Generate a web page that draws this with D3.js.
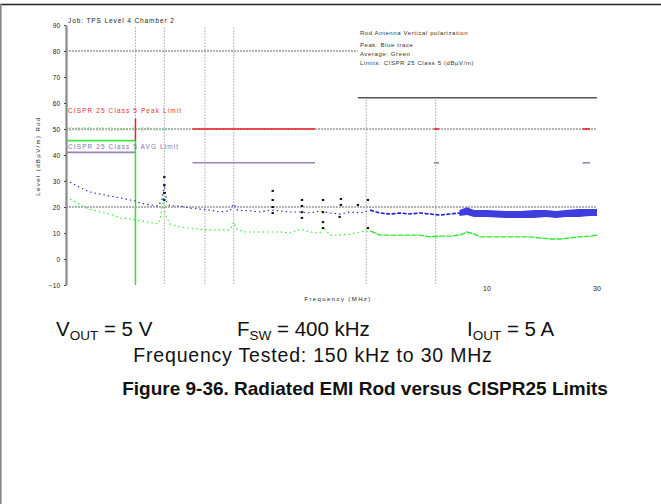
<!DOCTYPE html>
<html><head><meta charset="utf-8">
<script src="https://cdn.jsdelivr.net/npm/d3@7"></script>
<style>body{margin:0;background:#fff}svg{display:block}</style>
</head><body><svg id="c" width="661" height="504"></svg>
<script>
// ---- data ----
const yTickValues = [90, 80, 70, 60, 50, 40, 30, 20, 10, 0, -10];
const yGridValues = [80, 50, 20];
const xTickValues = [10, 30];
const xTickText = ["10", "30"];
const vGridFreqs = [0.3, 0.4, 0.6, 0.8, 3, 6];

// measured peak (blue) trace, MHz / dBuV/m
const peakFreq = [0.15,0.174,0.19,0.21,0.233,0.257,0.284,0.30,0.314,0.347,0.376,0.39,0.40,0.41,0.423,0.468,0.517,0.571,0.631,0.697,0.770,0.80,0.83,0.94,1.04,1.15,1.27,1.40,1.55,1.71,1.89,2.09,2.31,2.55,2.82,3.12,3.44,3.80,4.20,4.64,5.13,5.67,6.26,6.92,7.64,8.2,8.45,9.33,10.3,11.4,12.6,13.9,15.4,17.0,18.8,20.7,22.9,25.3,28.0,30.0];
const peakDb   = [30.4,27.3,25.8,25.0,24.2,23.5,22.7,22.3,21.5,20.8,20.4,22.5,28.5,22.0,20.4,20.4,19.6,19.2,18.8,18.1,18.5,21.2,18.8,18.5,18.1,18.8,18.5,18.1,18.1,17.7,18.5,17.7,17.3,18.1,17.7,18.8,17.7,17.3,17.7,17.3,17.7,17.3,16.9,17.3,17.7,18.5,17.3,16.9,16.5,16.9,16.5,16.2,16.9,16.2,16.5,16.9,16.5,17.3,16.9,17.3];
// noise envelope of the peak trace at high frequency
const bandFreq = [7.6,8.2,8.8,10,12,14,16,18,20,22,25,28,30];
const bandHi   = [18.8,19.9,18.8,18.8,18.5,18.5,18.8,18.8,18.5,18.8,19.2,19.2,19.2];
const bandLo   = [16.5,16.9,16.2,16.2,15.8,15.8,15.8,16.2,15.8,16.2,16.2,16.5,16.5];

// measured average (green) trace
const avgFreq = [0.15,0.164,0.18,0.19,0.21,0.22,0.24,0.257,0.284,0.32,0.376,0.385,0.395,0.405,0.423,0.468,0.517,0.60,0.70,0.77,0.80,0.83,0.90,1.04,1.27,1.40,1.55,1.71,1.89,1.95,2.09,2.31,2.55,2.82,3.12,3.44,3.80,4.20,4.64,5.13,5.67,6.26,6.92,7.64,8.2,8.8,9.33,10.3,11.4,12.6,13.9,15.4,17.0,18.8,20.7,22.9,25.3,28.0,30.0];
const avgDb   = [23.8,22.0,20.0,19.2,18.1,17.7,16.9,15.8,15.4,14.6,13.5,15.8,24.0,16.9,13.5,12.3,11.9,11.2,11.2,11.2,14.2,11.2,10.4,10.4,10.4,10.0,11.5,10.4,10.0,12.3,9.2,9.2,9.6,10.4,10.8,9.2,9.2,9.2,9.2,9.2,8.5,8.8,8.8,9.2,10.4,9.6,8.5,8.5,8.5,8.5,8.5,8.5,8.1,7.7,7.7,8.1,8.5,8.8,9.2];

// limit segments: start MHz, end MHz, level
const peakLimStart = [0.53, 5.9, 26], peakLimEnd = [1.8, 6.2, 28], peakLimLevel = [50, 50, 50];
const avgLimStart = [0.15, 0.53, 5.9, 26], avgLimEnd = [0.3, 1.8, 6.2, 28], avgLimLevel = [41, 37, 37, 37];
const qpLimStart = [0.15], qpLimEnd = [0.3], qpLimLevel = [45.5];
const lwPeakLevel = 54;
const refLineStart = 2.76, refLineEnd = 30, refLineLevel = 62;

// marker ticks
const markerFreq = [0.4,0.4,0.4,0.4,1.18,1.18,1.18,1.18,1.58,1.58,1.58,1.58,1.95,1.95,1.95,1.95,2.33,2.33,2.3,2.76,3.05,3.05];
const markerDb   = [31.5,28.5,25.4,22.7,26.2,22.7,20.0,17.7,22.7,20.4,18.0,15.8,22.7,18.0,14.2,11.9,23.1,20.8,16.2,20.8,22.7,11.9];

const legendLines = ["Rod Antenna   Vertical   polarization", "Peak: Blue trace", "Average: Green", "Limits: CISPR 25 Class 5   (dB\u00B5V/m)"];

// ---- drawing ----
const svg = d3.select("#c");
const x = d3.scaleLog().domain([0.15, 30]).range([66, 597]);
const y = d3.scaleLinear().domain([-10, 90]).range([285, 25]);

// frame
svg.append("line").attr("x1",0).attr("x2",661).attr("y1",4.5).attr("y2",4.5).attr("stroke","#222").attr("stroke-width",1.6);
svg.append("line").attr("x1",0.8).attr("x2",0.8).attr("y1",4).attr("y2",504).attr("stroke","#888").attr("stroke-width",1.6);

const small = "Liberation Sans, Arial, sans-serif";

// grid
svg.append("g").selectAll("line").data(yGridValues).join("line")
  .attr("x1", x(0.15)).attr("x2", d => d === 80 ? x(2.76) : x(30))
  .attr("y1", d => y(d)).attr("y2", d => y(d))
  .attr("stroke","#666").attr("stroke-width",1).attr("stroke-dasharray","2,1");
svg.append("g").selectAll("line").data(vGridFreqs).join("line")
  .attr("x1", d => x(d)).attr("x2", d => x(d))
  .attr("y1", y(89)).attr("y2", y(-10))
  .attr("stroke","#777").attr("stroke-width",1).attr("stroke-dasharray","1,2");

// legend box (covers grid)
svg.append("rect").attr("x", x(refLineStart)).attr("y", 26).attr("width", x(30)-x(refLineStart)).attr("height", y(refLineLevel)-26).attr("fill","#fff");
svg.append("line").attr("x1", x(refLineStart)).attr("x2", x(refLineEnd)).attr("y1", y(refLineLevel)).attr("y2", y(refLineLevel)).attr("stroke","#555").attr("stroke-width",1.4);
svg.append("g").selectAll("text").data(legendLines).join("text")
  .attr("x", x(refLineStart)+2).attr("y", (d,i) => [35,47,56,65][i])
  .attr("font-family", small).attr("font-size", 6).attr("fill","#333").attr("letter-spacing",0.6)
  .text(d => d);

// limits
function segs(s, e, l, color, w) {
  svg.append("g").selectAll("line").data(s).join("line")
    .attr("x1", (d,i) => x(s[i])).attr("x2", (d,i) => x(e[i]))
    .attr("y1", (d,i) => y(l[i])).attr("y2", (d,i) => y(l[i]))
    .attr("stroke", color).attr("stroke-width", w);
}
segs(peakLimStart, peakLimEnd, peakLimLevel, "#f02020", 1.6);
segs(avgLimStart, avgLimEnd, avgLimLevel, "#9a84b4", 1.6);
segs(qpLimStart, qpLimEnd, qpLimLevel, "#3ee83e", 1.8);
svg.append("line").attr("x1", x(0.3)).attr("x2", x(0.3)).attr("y1", y(qpLimLevel[0])).attr("y2", y(-10)).attr("stroke","#2ee82e").attr("stroke-width",1.5);
svg.append("line").attr("x1", x(0.3)).attr("x2", x(0.3)).attr("y1", y(lwPeakLevel)).attr("y2", y(qpLimLevel[0])).attr("stroke","#f02020").attr("stroke-width",1.5);

// limit labels
svg.append("text").attr("x", 68).attr("y", y(57)+2).attr("font-family", small).attr("font-size", 6.5).attr("fill","#f03030").attr("letter-spacing",1.1).text("CISPR 25 Class 5  Peak  Limit");
svg.append("text").attr("x", 68).attr("y", y(50)+2).attr("font-family", small).attr("font-size", 6).attr("fill","#44dd44").attr("fill-opacity",0.6).attr("letter-spacing",1.3).text("CISPR 25 Class 5  QP  Limit");
svg.append("text").attr("x", 68).attr("y", y(43)+2).attr("font-family", small).attr("font-size", 6.5).attr("fill","#8a70a8").attr("letter-spacing",1.1).text("CISPR 25 Class 5  AVG  Limit");

// traces
const line = d3.line().x(d => x(d[0])).y(d => y(d[1]));
const peakPts = peakFreq.map((f,i) => [f, peakDb[i]]);
const avgPts = avgFreq.map((f,i) => [f, avgDb[i]]);
svg.append("path").attr("d", line(avgPts.filter(d => d[0] <= 3.2))).attr("fill","none").attr("stroke","#2fe82f").attr("stroke-width",1.1).attr("stroke-dasharray","1.5,3");
svg.append("path").attr("d", line(avgPts.filter(d => d[0] >= 3.1))).attr("fill","none").attr("stroke","#2fe82f").attr("stroke-width",1.4).attr("stroke-dasharray","6,1");
svg.append("path").attr("d", line(peakPts.filter(d => d[0] <= 3.2))).attr("fill","none").attr("stroke","#2424e0").attr("stroke-width",1.1).attr("stroke-dasharray","1.5,3");
svg.append("path").attr("d", line(peakPts.filter(d => d[0] >= 3.1 && d[0] <= 7.7))).attr("fill","none").attr("stroke","#1c1cd8").attr("stroke-width",1.6).attr("stroke-dasharray","4,1.5");
const area = d3.area().x(d => x(d[0])).y0(d => y(d[2])).y1(d => y(d[1]));
svg.append("path").attr("d", area(bandFreq.map((f,i) => [f, bandHi[i], bandLo[i]]))).attr("fill","#1c1cd8").attr("fill-opacity",0.85);

// markers
svg.append("g").selectAll("rect").data(markerFreq).join("rect")
  .attr("x", (d) => x(d)-1.2).attr("y", (d,i) => y(markerDb[i])-1).attr("width", 2.4).attr("height", 2)
  .attr("fill","#111");

// y axis
const ax = svg.append("g").attr("transform", `translate(${x(0.15)},0)`)
  .call(d3.axisLeft(y).tickValues(yTickValues).tickSize(2).tickSizeOuter(0).tickFormat(d3.format("d")));
ax.select(".domain").attr("stroke","#8a8a8a").attr("stroke-width",2.2);
ax.selectAll(".tick line").attr("stroke","#444");
ax.selectAll("text").attr("font-family", small).attr("font-size", 6.5).attr("fill","#222").attr("dx", -1);

// x tick labels
svg.append("g").selectAll("text").data(xTickValues).join("text")
  .attr("x", d => x(d)).attr("y", 291).attr("text-anchor","middle")
  .attr("font-family", small).attr("font-size", 7).attr("fill","#222")
  .text((d,i) => xTickText[i]);

// axis titles, chart title
svg.append("text").attr("x", 338).attr("y", 301).attr("text-anchor","middle").attr("font-family", small).attr("font-size", 6).attr("fill","#222").attr("letter-spacing",1.4).text("Frequency (MHz)");
svg.append("text").attr("transform","translate(40,156) rotate(-90)").attr("text-anchor","middle").attr("font-family", small).attr("font-size", 6).attr("fill","#222").attr("letter-spacing",1.4).text("Level (dB\u00B5V/m)  Rod");
svg.append("text").attr("x", 68).attr("y", 23).attr("font-family", small).attr("font-size", 6.5).attr("fill","#222").attr("letter-spacing",0.9).text("Job: TPS Level 4    Chamber 2");

// captions
const big = "Liberation Sans, Arial, sans-serif";
function condRow(xp, main, sub, rest) {
  const t = svg.append("text").attr("x", xp).attr("y", 336).attr("font-family", big).attr("font-size", 20.5).attr("fill","#111");
  t.append("tspan").text(main);
  t.append("tspan").attr("font-size", 13.5).attr("dy", 4).text(sub);
  t.append("tspan").attr("dy", -4).text(rest);
}
condRow(56, "V", "OUT", " = 5 V");
condRow(237, "F", "SW", " = 400 kHz");
condRow(467, "I", "OUT", " = 5 A");
svg.append("text").attr("x", 313).attr("y", 362).attr("text-anchor","middle").attr("font-family", big).attr("font-size", 19.5).attr("letter-spacing",0.8).attr("fill","#111").text("Frequency Tested: 150 kHz to 30 MHz");
svg.append("text").attr("x", 365).attr("y", 395).attr("text-anchor","middle").attr("font-family", big).attr("font-weight","bold").attr("font-size", 19).attr("fill","#111").text("Figure 9-36. Radiated EMI Rod versus CISPR25 Limits");
</script></body></html>
